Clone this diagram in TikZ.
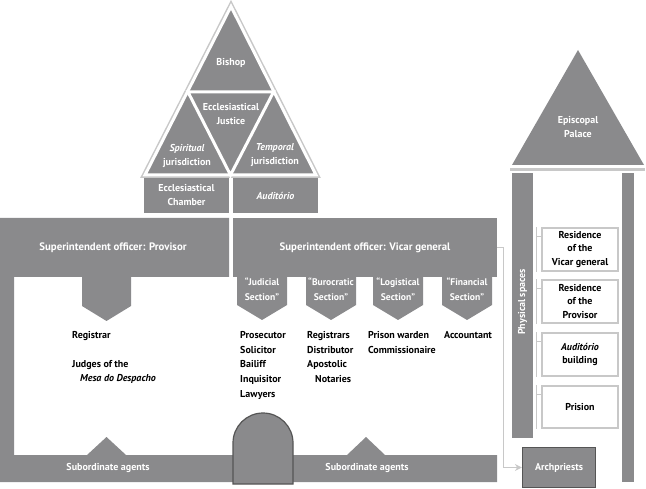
\documentclass[tikz,border=0pt]{standalone}
\usepackage{fontspec}
\setmainfont{PT Sans}
\usetikzlibrary{arrows.meta}
\definecolor{dk}{RGB}{138,138,140}
\definecolor{lt}{RGB}{200,200,200}
\definecolor{ol}{RGB}{85,85,85}
\begin{document}
\begin{tikzpicture}[x=1pt,y=-1pt,
 wt/.style={text=white,font=\fontsize{10}{14}\selectfont\bfseries,align=center,inner sep=0pt},
 tt/.style={text=white,font=\fontsize{10.8}{14}\selectfont\bfseries,align=center,inner sep=0pt},
 st/.style={text=white,font=\fontsize{9.6}{15}\selectfont\bfseries,align=center,inner sep=0pt},
 bt/.style={text=black,font=\fontsize{10}{14.7}\selectfont\bfseries,align=left,inner sep=0pt,anchor=north west},
 rt/.style={text=black,font=\fontsize{10}{13.2}\selectfont\bfseries,align=center,inner sep=0pt},
 blk/.style={fill=dk,draw=none},
 room/.style={draw=lt,fill=white,line width=1.2pt},
 brk/.style={draw=lt,line width=1pt},
 conn/.style={draw=lt,line width=1.2pt,-{Stealth[length=7pt,width=7pt]}},
]
\useasboundingbox (0,0) rectangle (646,489);

% ---------- pyramid ----------
\coordinate (pA) at (231,6.5);
\coordinate (pL) at (145,175);
\coordinate (pR) at (316,175);
\coordinate (mL) at (188,92);
\coordinate (mR) at (273.5,92);
\coordinate (mB) at (230.5,175);
\draw[lt,line width=6pt,line join=miter] (pA)--(pL)--(pR)--cycle;
\fill[dk] (pA)--(pL)--(pR)--cycle;
\draw[white,line width=3pt,line join=miter] (pA)--(pL)--(pR)--cycle;
\draw[white,line width=3pt] (mL)--(mR)--(mB)--cycle;
\node (bishop) [wt] at (231,63) {Bishop};
\node (ejust) [wt] at (231,114.5) {Ecclesiastical\\Justice};
\node (spir) [wt] at (187,155.5) {\textit{Spiritual}\\jurisdiction};
\node (temp) [wt] at (275,155.5) {\textit{Temporal}\\jurisdiction};

% ---------- chamber / auditorio ----------
\node (cham) [blk,wt,minimum width=85pt,minimum height=35pt] at (186.5,195.5) {Ecclesiastical\\Chamber};
\node (aud) [blk,wt,minimum width=85pt,minimum height=35pt] at (275.5,195.5) {\textit{Auditório}};

% ---------- frame: provisor bar, left bar, bottom bar ----------
\fill[dk] (0,218) -- (229,218) -- (229,277) -- (14,277) -- (14,455)
  -- (87,455) -- (106.5,437) -- (126,455)
  -- (347,455) -- (366,437) -- (385,455)
  -- (497,455) -- (497,482) -- (0,482) -- cycle;
\node (prov) [tt] at (113,247.5) {Superintendent officer: Provisor};
\fill[dk] (82,276) -- (131,276) -- (131,306) -- (106.5,321) -- (82,306) -- cycle;

\node (vic) [blk,tt,minimum width=264pt,minimum height=59pt] at (365,247.5) {Superintendent officer: Vicar general};

% ---------- sections ----------
\foreach \cx/\nm/\txt in {262/sj/{“Judicial\\Section”},331/sb/{“Burocratic\\Section”},398/sl/{“Logistical\\Section”},467/sf/{“Financial\\Section”}}{
  \fill[dk] (\cx-25,276) -- (\cx+25,276) -- (\cx+25,305) -- (\cx,320) -- (\cx-25,305) -- cycle;
  \node (\nm) [st] at (\cx,289.5) {\txt};
}

% ---------- lists ----------
\node (registrar) [bt] at (72,331) {Registrar};
\node (judges) [bt] at (72,360) {Judges of the\\\hspace*{8pt}\textit{Mesa do Despacho}};
\node (jud) [bt] at (240,331) {Prosecutor\\Solicitor\\Bailiff\\Inquisitor\\Lawyers};
\node (bur) [bt] at (307,331) {Registrars\\Distributor\\Apostolic\\\hspace*{8pt}Notaries};
\node (log) [bt] at (368,331) {Prison warden\\Commissionaire};
\node (fin) [bt] at (444,331) {Accountant};

% ---------- bottom ----------
\node (sub1) [wt] at (108,468) {Subordinate agents};
\node (sub2) [wt] at (367,468) {Subordinate agents};
\draw[ol,fill=dk,line width=1.2pt] (233,484) -- (233,443) arc[start angle=180,end angle=0,radius=30pt] -- (293,484) -- cycle;

% ---------- episcopal palace ----------
\fill[dk] (512,165) -- (578,50) -- (644,165) -- cycle;
\node (pal) [wt] at (578,127) {Episcopal\\Palace};
\draw[lt,line width=3pt] (510,169.5) -- (645,169.5);
\node (phys) [blk,minimum width=21pt,minimum height=265pt,inner sep=0pt] at (522.5,305.5) {};
\node (physt) [wt,rotate=90] at (522.5,302) {Physical spaces};
\fill[dk] (622,173) rectangle (634,482);

\node (r1) [room,rt,minimum width=76pt,minimum height=43pt] at (580,249.5) {Residence\\of the\\Vicar general};
\node (r2) [room,rt,minimum width=76pt,minimum height=43pt] at (580,301.5) {Residence\\of the\\Provisor};
\node (r3) [room,rt,minimum width=76pt,minimum height=43pt] at (580,354.5) {\textit{Auditório}\\building};
\node (r4) [room,rt,minimum width=76pt,minimum height=42pt] at (580,407) {Prision};
\foreach \r in {r1,r2,r3,r4}{
  \draw[brk] ([xshift=-5pt]\r.north west) -- ([xshift=-5pt]\r.south west);
  \draw[brk] ([xshift=-5pt,yshift=-9pt]\r.north west) -- ([yshift=-9pt]\r.north west);
}

\node (arch) [fill=dk,draw=ol,line width=1.2pt,wt,minimum width=73pt,minimum height=40pt] at (559,467.5) {Archpriests};
\draw[conn] (vic.east) -- ++(6,0) |- (arch.west);
\end{tikzpicture}
\end{document}
